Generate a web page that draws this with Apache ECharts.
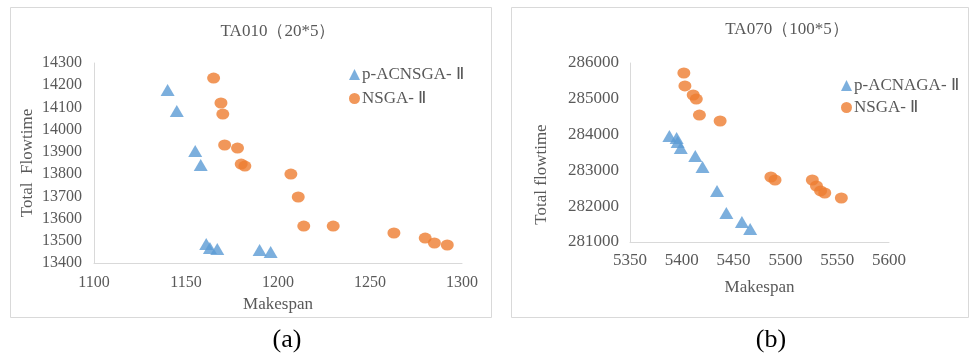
<!DOCTYPE html>
<html><head><meta charset="utf-8">
<script src="https://cdn.jsdelivr.net/npm/echarts@6/dist/echarts.min.js"></script>
<style>html,body{margin:0;padding:0;background:#fff}#c{width:972px;height:361px}</style>
</head><body><div id="c"></div>
<script>
// Chart (a) TA010 (20*5)
const aTriX = [1140, 1145, 1155, 1158, 1161, 1163, 1167, 1190, 1196];
const aTriY = [14178, 14084, 13904, 13841, 13485, 13467, 13463, 13458, 13449];
const aCirX = [1165, 1169, 1170, 1171, 1178, 1180, 1182, 1207, 1211, 1214, 1230, 1263, 1280, 1285, 1292];
const aCirY = [14232, 14120, 14070, 13931, 13917, 13845, 13836, 13800, 13697, 13566, 13566, 13535, 13512, 13490, 13481];
// Chart (b) TA070 (100*5)
const bTriX = [5388, 5395, 5396, 5399, 5413, 5420, 5434, 5443, 5458, 5466];
const bTriY = [283961, 283905, 283793, 283626, 283402, 283095, 282425, 281810, 281559, 281363];
const bCirX = [5402, 5403, 5411, 5414, 5417, 5437, 5486, 5490, 5526, 5530, 5534, 5538, 5554];
const bCirY = [285721, 285358, 285106, 284994, 284547, 284380, 282816, 282732, 282732, 282564, 282425, 282369, 282229];

const titles = ['TA010（20*5）', 'TA070（100*5）'];
const seriesNamesA = ['p-ACNSGA- Ⅱ', 'NSGA- Ⅱ'];
const seriesNamesB = ['p-ACNAGA- Ⅱ', 'NSGA- Ⅱ'];
const xNames = ['Makespan', 'Makespan'];
const yNames = ['Total  Flowtime', 'Total flowtime'];
const panelLabels = ['(a)', '(b)'];

const zip = (xs, ys) => xs.map((x, i) => [x, ys[i]]);
const FONT = 'Liberation Serif';
const GREY = '#595959';
const BLUE = '#5B9BD5', ORANGE = '#ED7D31';
const plain = v => String(v);

const axisCommon = {
  axisLine: {show: true, lineStyle: {color: '#d9d9d9', width: 1}},
  axisTick: {show: false},
  splitLine: {show: false},
  nameLocation: 'middle',
  nameTextStyle: {color: GREY, fontFamily: FONT, fontSize: 17},
};

const chart = echarts.init(document.getElementById('c'), null, {renderer: 'canvas'});
chart.setOption({
  animation: false,
  backgroundColor: '#fff',
  textStyle: {fontFamily: FONT},
  grid: [
    {left: 94, top: 63, width: 368, height: 200},
    {left: 630, top: 63, width: 259, height: 179}
  ],
  xAxis: [
    Object.assign({}, axisCommon, {gridIndex: 0, type: 'value', min: 1100, max: 1300, interval: 50,
      name: xNames[0], nameGap: 32,
      axisLabel: {color: GREY, fontFamily: FONT, fontSize: 16, margin: 12, formatter: plain}}),
    Object.assign({}, axisCommon, {gridIndex: 1, type: 'value', min: 5350, max: 5600, interval: 50,
      name: xNames[1], nameGap: 37,
      axisLabel: {color: GREY, fontFamily: FONT, fontSize: 17, margin: 10, formatter: plain}})
  ],
  yAxis: [
    Object.assign({}, axisCommon, {gridIndex: 0, type: 'value', min: 13400, max: 14300, interval: 100,
      name: yNames[0], nameGap: 58,
      axisLabel: {color: GREY, fontFamily: FONT, fontSize: 16, margin: 12, formatter: plain}}),
    Object.assign({}, axisCommon, {gridIndex: 1, type: 'value', min: 281000, max: 286000, interval: 1000,
      name: yNames[1], nameGap: 80,
      nameTextStyle: {color: GREY, fontFamily: FONT, fontSize: 17, padding: [0, 44, 0, 0]},
      axisLabel: {color: GREY, fontFamily: FONT, fontSize: 17, margin: 11, formatter: plain}})
  ],
  legend: [
    {orient: 'vertical', left: 344, top: 61, itemWidth: 11, itemHeight: 11, itemGap: 7,
     data: [{name: seriesNamesA[0], icon: 'triangle'}, {name: seriesNamesA[1], icon: 'circle'}],
     textStyle: {color: GREY, fontFamily: FONT, fontSize: 17, padding: [0, 0, 0, -3]}},
    {orient: 'vertical', left: 836, top: 72, itemWidth: 11, itemHeight: 11, itemGap: 5,
     data: [{name: seriesNamesB[0], icon: 'triangle'}, {name: seriesNamesB[1], icon: 'circle'}],
     textStyle: {color: GREY, fontFamily: FONT, fontSize: 17, padding: [0, 0, 0, -3]}}
  ],
  series: [
    {name: seriesNamesA[0], type: 'scatter', xAxisIndex: 0, yAxisIndex: 0, symbol: 'triangle', symbolSize: [14, 12],
     itemStyle: {color: BLUE}, data: zip(aTriX, aTriY)},
    {name: seriesNamesA[1], type: 'scatter', xAxisIndex: 0, yAxisIndex: 0, symbol: 'circle', symbolSize: [13, 11],
     itemStyle: {color: ORANGE}, data: zip(aCirX, aCirY)},
    {name: seriesNamesB[0], type: 'scatter', xAxisIndex: 1, yAxisIndex: 1, symbol: 'triangle', symbolSize: [14, 12],
     itemStyle: {color: BLUE}, data: zip(bTriX, bTriY)},
    {name: seriesNamesB[1], type: 'scatter', xAxisIndex: 1, yAxisIndex: 1, symbol: 'circle', symbolSize: [13, 11],
     itemStyle: {color: ORANGE}, data: zip(bCirX, bCirY)}
  ],
  graphic: [
    {type: 'rect', shape: {x: 10.5, y: 7.5, width: 481, height: 310}, style: {fill: 'none', stroke: '#d9d9d9', lineWidth: 1}, z: -1},
    {type: 'rect', shape: {x: 511.5, y: 7.5, width: 457, height: 310}, style: {fill: 'none', stroke: '#d9d9d9', lineWidth: 1}, z: -1},
    {type: 'text', x: 278, y: 32, style: {text: titles[0], fill: GREY, font: '17px "Liberation Serif"', textAlign: 'center', textVerticalAlign: 'middle'}},
    {type: 'text', x: 787, y: 30, style: {text: titles[1], fill: GREY, font: '17px "Liberation Serif"', textAlign: 'center', textVerticalAlign: 'middle'}},
    {type: 'text', x: 287, y: 340, style: {text: panelLabels[0], fill: '#000', font: '26px "Liberation Serif"', textAlign: 'center', textVerticalAlign: 'middle'}},
    {type: 'text', x: 771, y: 340, style: {text: panelLabels[1], fill: '#000', font: '26px "Liberation Serif"', textAlign: 'center', textVerticalAlign: 'middle'}}
  ]
});
</script></body></html>
